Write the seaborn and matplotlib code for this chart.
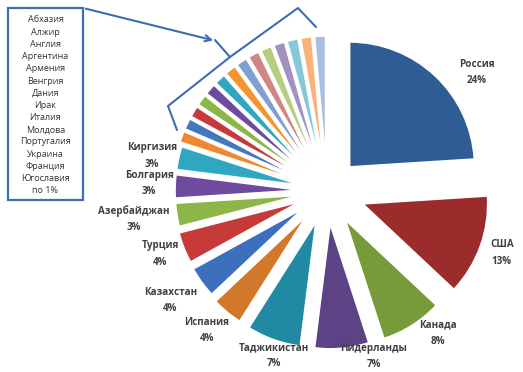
import matplotlib
matplotlib.use("Agg")
import numpy as np
import matplotlib.pyplot as plt
import seaborn as sns
from matplotlib.patches import Rectangle

# ---- data ----
big_countries = ["Россия", "США", "Канада", "Нидерланды", "Таджикистан", "Испания",
                 "Казахстан", "Турция", "Азербайджан", "Болгария", "Киргизия"]
big_values = [24, 13, 8, 7, 7, 4, 4, 4, 3, 3, 3]
small_countries = ["Абхазия", "Алжир", "Англия", "Аргентина", "Армения", "Венгрия", "Дания",
                   "Ирак", "Италия", "Молдова", "Португалия", "Украина", "Франция", "Югославия"]
small_values = [1.43] * 14
small_note = "по 1%"

# ---- style ----
big_colors = ["#2E5C94", "#9C2B2B", "#779A3A", "#5E4286", "#2189A3", "#D2782A",
              "#3D6FBF", "#C73A3A", "#8DB548", "#6E4B9E", "#30A7C0"]
small_colors = ["#F0882F", "#4477C0", "#C73A3A", "#8DB548", "#6E4B9E", "#30A7C0", "#F59331",
                "#7FA0D0", "#D08684", "#B3CF7F", "#A391C2", "#86C7DA", "#F8B27A", "#A8C0E0"]
big_explode = [33, 38, 34, 33, 33, 32, 30, 29, 27, 27, 27]
small_explode = [30] * 14
label_dist = [192, 189, 184, 175, 174, 184, 190, 176, 193, 175, 175]
label_turn = [9.6, 0, -6, -11, -3, 0, 0, 0, 0, 0, -1.7]
label_origin = (324, 189)
pie_center = (327, 191)
pie_radius = 125
line_col = "#3F6DB3"
text_col = "#404040"

sns.set_theme(style="white")
plt.rcParams["font.family"] = ["Open Sans", "DejaVu Sans"]

fig = plt.figure(figsize=(5.23, 3.72), dpi=100)
ax = fig.add_axes([0, 0, 1, 1])

values = big_values + small_values
total = sum(values)
colors = sns.color_palette(big_colors + small_colors)

wedges, _ = ax.pie(values, explode=big_explode + small_explode, colors=colors,
                   radius=pie_radius, center=pie_center,
                   startangle=-90, counterclock=True,
                   wedgeprops=dict(edgecolor="white", linewidth=1.2))

# data labels for the named slices
for i, (c, v) in enumerate(zip(big_countries, big_values)):
    w = wedges[i]
    th = np.deg2rad(0.5 * (w.theta1 + w.theta2) + label_turn[i])
    x = label_origin[0] + label_dist[i] * np.cos(th)
    y = label_origin[1] + label_dist[i] * np.sin(th)
    ax.text(x, y, f"{c}\n{v / total * 100:.0f}%", ha="center", va="center",
            fontsize=7.1, color=text_col, fontweight="bold", linespacing=1.65)

ax.set_xlim(0, 523)
ax.set_ylim(372, 0)
ax.set_aspect("equal")
ax.axis("off")

# callout box with small-country list
ax.add_patch(Rectangle((8, 8), 75, 192, fill=False, edgecolor=line_col, linewidth=1.6))
for i, name in enumerate(small_countries + [small_note]):
    ax.text(45.5, 20 + i * 12.2, name, ha="center", va="center", fontsize=6.5, color="#333333")

# arrow from box to bracket
ax.annotate("", xy=(216, 41), xytext=(83, 8),
            arrowprops=dict(arrowstyle="->", color=line_col, lw=1.5, mutation_scale=11))
ax.plot([215, 230], [40, 57], color=line_col, lw=1.5, solid_capstyle="round")
# bracket over the small slices
ax.plot([177, 168, 230, 298, 316], [130, 106, 57, 8, 27], color=line_col, lw=1.5,
        solid_joinstyle="round", solid_capstyle="round")

fig.savefig("out.png", dpi=100)
